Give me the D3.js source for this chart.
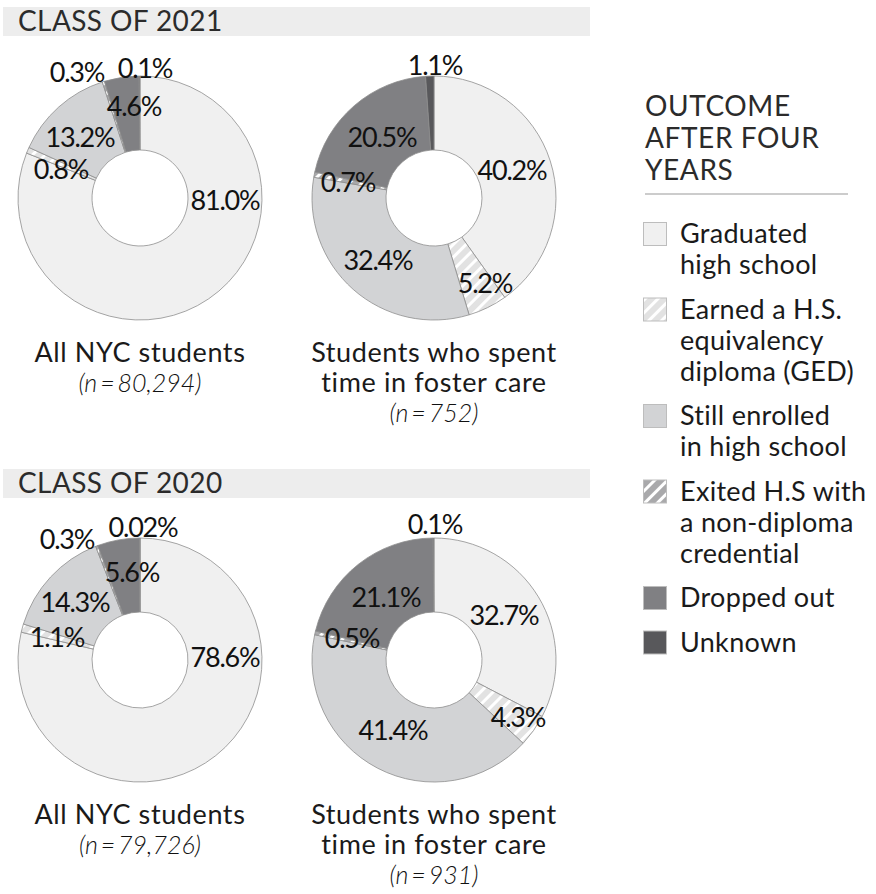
<!DOCTYPE html>
<html>
<head>
<meta charset="utf-8">
<script src="https://cdn.jsdelivr.net/npm/d3@7"></script>
<style>
  body { margin: 0; background: #fff; }
  text { font-family: Lato, "Open Sans", sans-serif; }
</style>
</head>
<body>
<svg id="chart" width="876" height="894"></svg>
<script>
// Outcome categories, in the order the slices run clockwise from 12 o'clock
const outcomes = [
  "Graduated high school",
  "Earned a H.S. equivalency diploma (GED)",
  "Still enrolled in high school",
  "Exited H.S with a non-diploma credential",
  "Dropped out",
  "Unknown"
];
const legendLines = [
  ["Graduated", "high school"],
  ["Earned a H.S.", "equivalency", "diploma (GED)"],
  ["Still enrolled", "in high school"],
  ["Exited H.S with", "a non-diploma", "credential"],
  ["Dropped out"],
  ["Unknown"]
];
const legendTitle = ["OUTCOME", "AFTER FOUR", "YEARS"];

const classTitles = ["CLASS OF 2021", "CLASS OF 2020"];
const groupNames = [["All NYC students"], ["Students who spent", "time in foster care"]];
const sampleSizes = [["80,294", "752"], ["79,726", "931"]];

// Share of students (%) per outcome
const all2021    = [81.0, 0.8, 13.2, 0.3, 4.6, 0.1];
const foster2021 = [40.2, 5.2, 32.4, 0.7, 20.5, 1.1];
const all2020    = [78.6, 1.1, 14.3, 0.3, 5.6, 0.02];
const foster2020 = [32.7, 4.3, 41.4, 0.5, 21.1, 0.1];
const seriesByClass = [[all2021, foster2021], [all2020, foster2020]];

// Hand-placed label anchors (offset from donut centre, px)
const labelOffsets = [
  [[[85, 2], [-79, -29], [-60, -61], [-63, -126], [-6, -92], [5, -130]],
   [[78, -28], [51, 85], [-56, 62], [-86, -16], [-52, -61], [1, -133]]],
  [[[85, -3], [-83, -23], [-65, -58], [-73, -121], [-8, -88], [3, -133]],
   [[70, -45], [84, 57], [-41, 70], [-82, -22], [-48, -63], [1, -136]]]
];

const fills = ["#f0f0f0", "url(#hatchLight)", "#d2d3d5", "url(#hatchDark)", "#808083", "#58585b"];

const svg = d3.select("#chart");
const defs = svg.append("defs");

function hatch(id, base) {
  const p = defs.append("pattern")
    .attr("id", id)
    .attr("patternUnits", "userSpaceOnUse")
    .attr("width", 9).attr("height", 9)
    .attr("patternTransform", "rotate(45)");
  p.append("rect").attr("width", 9).attr("height", 9).attr("fill", base);
  p.append("rect").attr("width", 3).attr("height", 9).attr("fill", "#ffffff");
}
hatch("hatchLight", "#e2e2e2");
hatch("hatchDark", "#a9a9ab");

const R = 122, r = 48;
const pie = d3.pie().sort(null).value(d => d).startAngle(0).endAngle(2 * Math.PI);
const arc = d3.arc().innerRadius(r).outerRadius(R);

const panelY = d3.scalePoint().domain(classTitles).range([0, 462]);
const donutX = d3.scalePoint().domain([0, 1]).range([140, 434]);

const fmt = v => (v < 0.1 ? v.toFixed(2) : v.toFixed(1)) + "%";

classTitles.forEach((title, ci) => {
  const g = svg.append("g").attr("transform", `translate(0,${panelY(title)})`);

  // header band
  g.append("rect")
    .attr("x", 3).attr("y", 7).attr("width", 587).attr("height", 29)
    .attr("fill", "#ededed");
  g.append("text")
    .attr("x", 18).attr("y", 31)
    .attr("font-size", 28).attr("letter-spacing", 0.4).attr("fill", "#2b2b2b")
    .text(title);

  seriesByClass[ci].forEach((values, di) => {
    const cx = donutX(di), cy = 198;
    const dg = g.append("g").attr("transform", `translate(${cx},${cy})`);
    const arcs = pie(values);

    dg.selectAll("path.slice")
      .data(arcs)
      .join("path")
      .attr("class", "slice")
      .attr("d", arc)
      .attr("fill", (d, i) => fills[i])
      .attr("stroke", "#8e8e8e")
      .attr("stroke-width", 0.8);

    dg.selectAll("text.val")
      .data(arcs)
      .join("text")
      .attr("class", "val")
      .attr("x", (d, i) => labelOffsets[ci][di][i][0])
      .attr("y", (d, i) => labelOffsets[ci][di][i][1])
      .attr("dy", "0.36em")
      .attr("text-anchor", "middle")
      .attr("font-size", 27)
      .attr("letter-spacing", -1.2)
      .attr("fill", "#111")
      .text(d => fmt(d.data));

    // group caption
    const cap = g.append("text")
      .attr("text-anchor", "middle")
      .attr("fill", "#1a1a1a")
      .attr("font-size", 27)
      .attr("letter-spacing", 0.6);
    groupNames[di].forEach((line, li) => {
      cap.append("tspan").attr("x", cx).attr("y", 362 + li * 30).text(line);
    });
    const nLine = groupNames[di].length;
    g.append("text")
      .attr("x", cx)
      .attr("y", 362 + nLine * 30)
      .attr("text-anchor", "middle")
      .attr("font-size", 25)
      .attr("font-style", "italic")
      .attr("font-weight", 300)
      .attr("fill", "#111")
      .text(`(n\u2009=\u2009${sampleSizes[ci][di]})`);
  });
});

// legend
const lg = svg.append("g");
legendTitle.forEach((line, i) => {
  lg.append("text")
    .attr("x", 645).attr("y", 116 + i * 32)
    .attr("font-size", 28).attr("letter-spacing", 0.6).attr("fill", "#2b2b2b")
    .text(line);
});
lg.append("line")
  .attr("x1", 645).attr("x2", 848)
  .attr("y1", 194).attr("y2", 194)
  .attr("stroke", "#999").attr("stroke-width", 1);

let base = 243;
outcomes.forEach((name, i) => {
  lg.append("rect")
    .attr("x", 643.5).attr("y", base - 20.5)
    .attr("width", 23).attr("height", 23)
    .attr("fill", fills[i])
    .attr("stroke", "#bdbdbd").attr("stroke-width", 1);
  const t = lg.append("text")
    .attr("font-size", 27).attr("letter-spacing", 0.3).attr("fill", "#1a1a1a");
  legendLines[i].forEach((line, li) => {
    t.append("tspan").attr("x", 680).attr("y", base + li * 31).text(line);
  });
  base += (legendLines[i].length - 1) * 31 + 44.5;
});
</script>
</body>
</html>
